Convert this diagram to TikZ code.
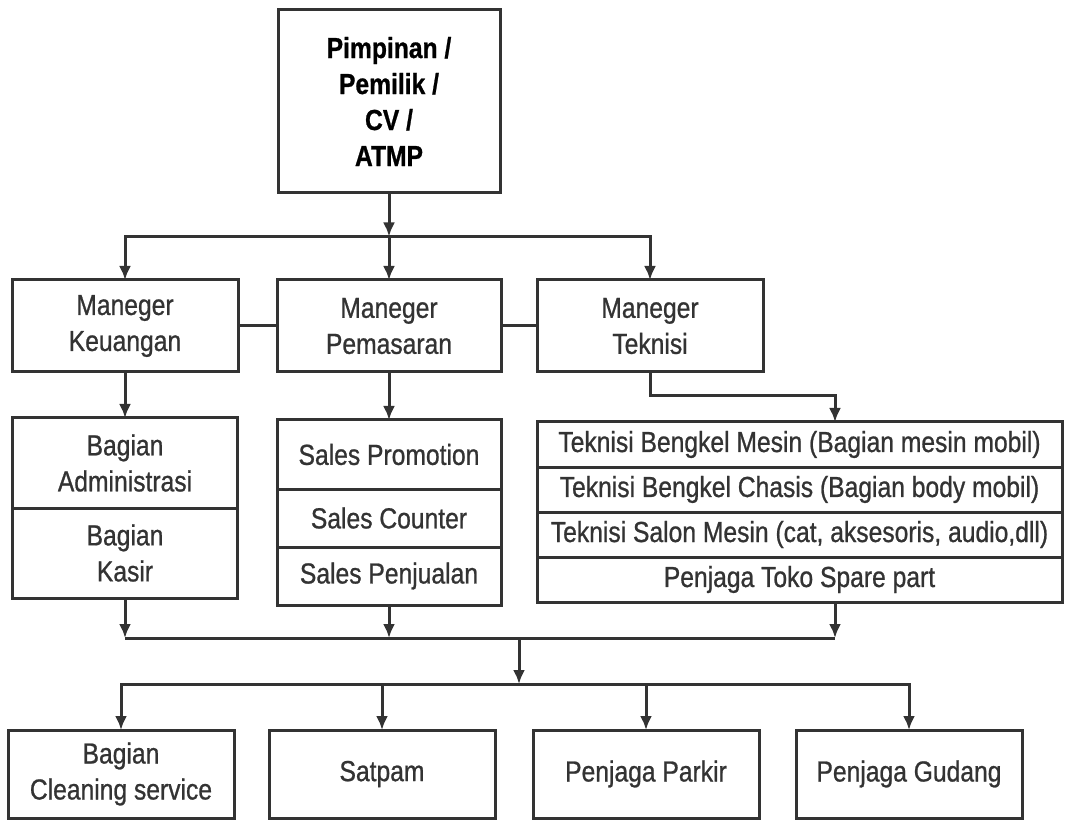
\documentclass[tikz,border=0pt]{standalone}
\usepackage{fontspec}
\setmainfont{Liberation Sans}[FakeStretch=0.85, FakeBold=0.8]
\usepackage{tikz}
\usetikzlibrary{shapes, arrows.meta, positioning, calc}

\begin{document}
\begin{tikzpicture}[node distance=36pt, >={Latex[length=14pt,width=12pt]}, line width=3pt, color=black!80]
    % Styles
    \tikzstyle{box} = [rectangle, draw, fill=white, align=center, inner sep=0pt, outer sep=0pt, minimum width=226pt, minimum height=92pt, font=\fontsize{29pt}{36pt}\selectfont]
    \tikzstyle{cell} = [box, minimum width=525pt, minimum height=45pt]

    \useasboundingbox (0,0) rectangle (1069pt,-826pt);

    % Nodes
    \node [box, minimum width=222pt, minimum height=183pt, text=black, font=\fontsize{29pt}{36pt}\selectfont\bfseries] (boss) at (389pt,-101.5pt) {Pimpinan /\\Pemilik /\\CV /\\ATMP};

    \node [box, minimum width=224pt, below=87pt of boss] (pem) {Maneger\\Pemasaran};
    \node [box, left=39pt of pem] (keu) {Maneger\\Keuangan};
    \node [box, right=36pt of pem] (tek) {Maneger\\Teknisi};

    \node [box, minimum width=225pt, minimum height=90pt, below=46pt of keu] (adm) {Bagian\\Administrasi};
    \node [box, minimum width=225pt, minimum height=90pt, below=0pt of adm] (ksr) {Bagian\\Kasir};

    \node [box, minimum width=224pt, minimum height=69pt, below=48pt of pem] (sp1) {Sales Promotion};
    \node [box, minimum width=224pt, minimum height=58pt, below=0pt of sp1] (sp2) {Sales Counter};
    \node [box, minimum width=224pt, minimum height=58pt, below=0pt of sp2] (sp3) {Sales Penjualan};

    \node [cell, below=50pt of tek.south west, anchor=north west] (tk1) {Teknisi Bengkel Mesin (Bagian mesin mobil)};
    \node [cell, below=0pt of tk1] (tk2) {Teknisi Bengkel Chasis (Bagian body mobil)};
    \node [cell, below=0pt of tk2] (tk3) {Teknisi Salon Mesin (cat, aksesoris, audio,dll)};
    \node [cell, below=0pt of tk3] (tk4) {Penjaga Toko Spare part};

    \node [box, minimum height=88pt, below=132pt of ksr, xshift=-4pt] (cln) {Bagian\\Cleaning service};
    \node [box, minimum height=88pt, right=35pt of cln] (sat) {Satpam};
    \node [box, minimum height=88pt, right=38pt of sat] (prk) {Penjaga Parkir};
    \node [box, minimum height=88pt, right=37pt of prk] (gud) {Penjaga Gudang};

    % Connections
    % Pimpinan -> maneger
    \coordinate (bus1) at ($(boss.south)!0.5!(pem.north)$);
    \draw[->] (boss) -- (bus1);
    \draw[->] (bus1) -- (pem);
    \draw[->] (bus1) -| (keu);
    \draw[->] (bus1) -| (tek);
    \draw (keu) -- (pem);
    \draw (pem) -- (tek);

    % Maneger -> bagian
    \coordinate (drop) at ($(tk1.north west)+(298pt,0)$);
    \draw[->] (keu) -- (adm);
    \draw[->] (pem) -- (sp1);
    \draw[->] (tek.south) -- ++(0,-24pt) -| (drop);

    % Bagian -> staf umum
    \coordinate (bus2) at ($(sp3.south)+(0,-33pt)$);
    \coordinate (bus3) at ($(bus2)+(0,-46pt)$);
    \coordinate (mid) at ($(sp3.south east)!0.5!(tk4.south west)$);
    \draw[->] (ksr) -- (ksr |- bus2);
    \draw[->] (sp3) -- (sp3 |- bus2);
    \draw[->] (tk4.south -| drop) -- (drop |- bus2);
    \draw (ksr |- bus2) -- (drop |- bus2);
    \draw[->] (mid |- bus2) -- (mid |- bus3);
    \draw[->] (mid |- bus3) -| (cln);
    \draw[->] (mid |- bus3) -| (gud);
    \foreach \n in {sat, prk}
        \draw[->] (\n |- bus3) -- (\n);

\end{tikzpicture}
\end{document}
